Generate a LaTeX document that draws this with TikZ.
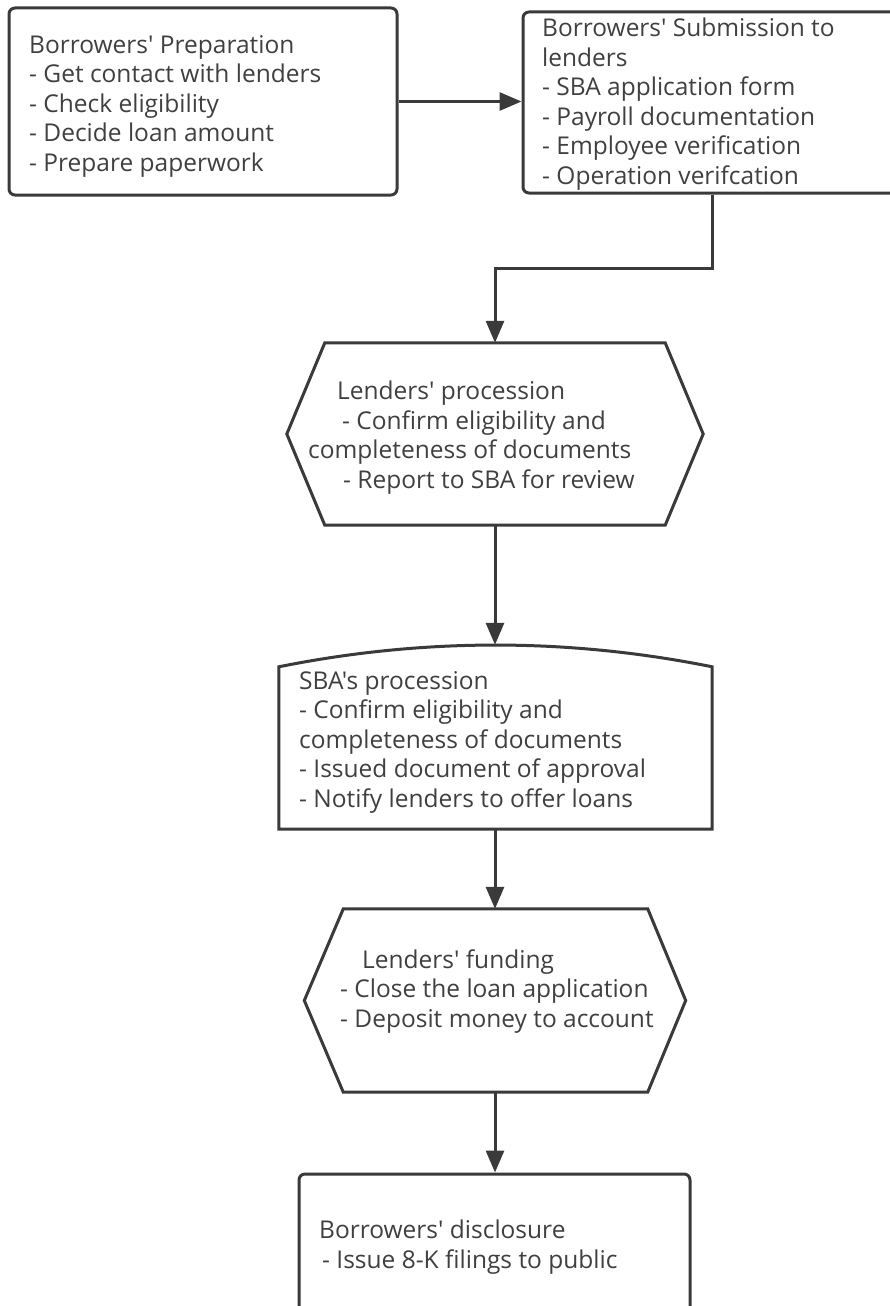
\documentclass[tikz,border=0pt]{standalone}
\usepackage{fontspec}
\setmainfont{Open Sans}
\setmonofont{Open Sans}
\usetikzlibrary{arrows.meta}
\definecolor{ln}{HTML}{3A3A3A}
\definecolor{tx}{HTML}{404040}
\begin{document}
\begin{tikzpicture}[x=1pt,y=-1pt,
  outline/.style={draw=ln, line width=3pt, line join=miter},
  boxr/.style={outline, rectangle, rounded corners=6pt, inner sep=0pt},
  frame/.style={rectangle, draw=none, inner sep=0pt},
  txt/.style={align=left, inner sep=0pt, anchor=base west, text=tx,
    font=\ttfamily\fontsize{24.5pt}{29.5pt}\selectfont},
  arr/.style={draw=ln, line width=3pt, -{Triangle[length=22pt,width=18pt]}}]
\useasboundingbox[fill=white] (0,0) rectangle (890,1306);

% boxes
\node[boxr, minimum width=388pt, minimum height=187pt] (b1) at (203,101.5) {};
\node[boxr, minimum width=377pt, minimum height=181pt] (b2) at (711.5,102.5) {};
\node[frame, minimum width=416pt, minimum height=182pt] (h1) at (495,434) {};
\node[frame, minimum width=433pt, minimum height=184pt] (s1) at (495.5,737) {};
\node[frame, minimum width=381pt, minimum height=183pt] (h2) at (495,1000.5) {};
\node[boxr, minimum width=391pt, minimum height=166pt] (b6) at (494.5,1257) {};

% hexagon and curved outlines
\draw[outline] (h1.west) -- ([xshift=38pt]h1.north west) -- ([xshift=-38pt]h1.north east)
  -- (h1.east) -- ([xshift=-38pt]h1.south east) -- ([xshift=38pt]h1.south west) -- cycle;
\draw[outline] (h2.west) -- ([xshift=39pt]h2.north west) -- ([xshift=-38pt]h2.north east)
  -- (h2.east) -- ([xshift=-38pt]h2.south east) -- ([xshift=39pt]h2.south west) -- cycle;
\draw[outline] ([yshift=-22pt]s1.north west) -- (s1.south west) -- (s1.south east)
  -- ([yshift=-22pt]s1.north east)
  .. controls ([xshift=-144pt,yshift=7pt]s1.north east) and ([xshift=144pt,yshift=7pt]s1.north west)
  .. ([yshift=-22pt]s1.north west) -- cycle;

% texts (anchor = baseline of last line)
\node[txt] (t1) at (29,171) {Borrowers' Preparation\\- Get contact with lenders\\- Check eligibility\\- Decide loan amount\\- Prepare paperwork};
\node[txt] (t2) at (542,184) {Borrowers' Submission to\\lenders\\- SBA application form\\- Payroll documentation\\- Employee verification\\- Operation verifcation};
\node[txt] (t3) at (308,488) {\hspace*{29pt}Lenders' procession\\\hspace*{34pt}- Confirm eligibility and\\completeness of documents\\\hspace*{35pt}- Report to SBA for review};
\node[txt] (t4) at (299,807) {SBA's procession\\- Confirm eligibility and\\completeness of documents\\- Issued document of approval\\- Notify lenders to offer loans};
\node[txt] (t5) at (340,1027) {\hspace*{22pt}Lenders' funding\\- Close the loan application\\- Deposit money to account};
\node[txt] (t6) at (319,1268) {Borrowers' disclosure\\\hspace*{3pt}- Issue 8-K filings to public};

% connectors
\coordinate (c2) at (712,268);
\draw[arr] (b1.east) -- (b1.east -| b2.west);
\draw[arr] (b2.south -| c2) -- (c2) -| (h1.north);
\draw[arr] (h1.south) -- (h1.south |- s1.north);
\draw[arr] (s1.south -| h2.north) -- (h2.north);
\draw[arr] (h2.south) -- (h2.south |- b6.north);
\end{tikzpicture}
\end{document}
